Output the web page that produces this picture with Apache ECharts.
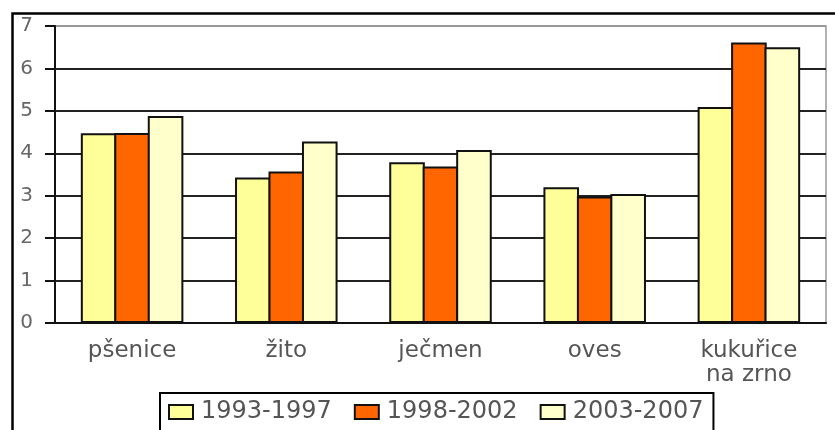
<!DOCTYPE html>
<html>
<head>
<meta charset="utf-8">
<script src="https://cdn.jsdelivr.net/npm/echarts@6/dist/echarts.min.js"></script>
<style>html,body{margin:0;padding:0;background:#fff}#c{width:835px;height:430px}</style>
</head>
<body>
<div id="c"></div>
<script>
var categories = ['pšenice', 'žito', 'ječmen', 'oves', 'kukuřice\nna zrno'];
var seriesNames = ['1993-1997', '1998-2002', '2003-2007'];
var s1993 = [4.47, 3.43, 3.79, 3.20, 5.09];
var s1998 = [4.48, 3.57, 3.69, 2.98, 6.61];
var s2003 = [4.88, 4.28, 4.08, 3.04, 6.50];
var colors = ['#FFFF99', '#FF6600', '#FFFFCC'];
var yTicks = [0, 1, 2, 3, 4, 5, 6, 7];

var chart = echarts.init(document.getElementById('c'), null, {renderer: 'canvas'});
var data = [s1993, s1998, s2003];
var font = 'DejaVu Sans';
chart.setOption({
  animation: false,
  backgroundColor: '#fff',
  graphic: [{
    type: 'rect', left: 10, top: 11, z: 100, silent: true,
    shape: {width: 900, height: 600},
    style: {fill: 'none', stroke: '#000', lineWidth: 2.5}
  }],
  grid: {left: 55, right: 9, top: 26, bottom: 107, show: true, borderColor: '#999', borderWidth: 1.5, backgroundColor: 'transparent'},
  legend: {
    data: seriesNames, left: 160, top: 393, icon: 'rect',
    itemWidth: 24, itemHeight: 14, itemGap: 22,
    borderColor: '#000', borderWidth: 2, padding: [7, 10, 40, 8],
    textStyle: {fontFamily: font, fontSize: 24, color: '#555', padding: [0, 0, 0, 3]}
  },
  xAxis: {
    type: 'category', data: categories,
    axisLine: {lineStyle: {color: '#111', width: 2}},
    axisTick: {length: 5, lineStyle: {color: '#111', width: 2}},
    axisLabel: {fontFamily: font, fontSize: 23, color: '#555', margin: 16, lineHeight: 24}
  },
  yAxis: {
    type: 'value', min: 0, max: 7, interval: 1,
    axisLine: {show: true, lineStyle: {color: '#111', width: 2}},
    axisTick: {show: true, length: 10, lineStyle: {color: '#111', width: 2}},
    axisLabel: {fontFamily: font, fontSize: 20, color: '#666', margin: 22,
      formatter: function (v) { return yTicks.indexOf(v) >= 0 ? String(v) : ''; }},
    splitLine: {lineStyle: {color: ['#222','#222','#222','#222','#222','#222','#222','#999'], width: 2}}
  },
  series: seriesNames.map(function (n, i) {
    return {
      name: n, type: 'bar', data: data[i],
      barGap: '-6%', barCategoryGap: '33.5%',
      itemStyle: {color: colors[i], borderColor: '#111', borderWidth: 2}
    };
  })
});
</script>
</body>
</html>
